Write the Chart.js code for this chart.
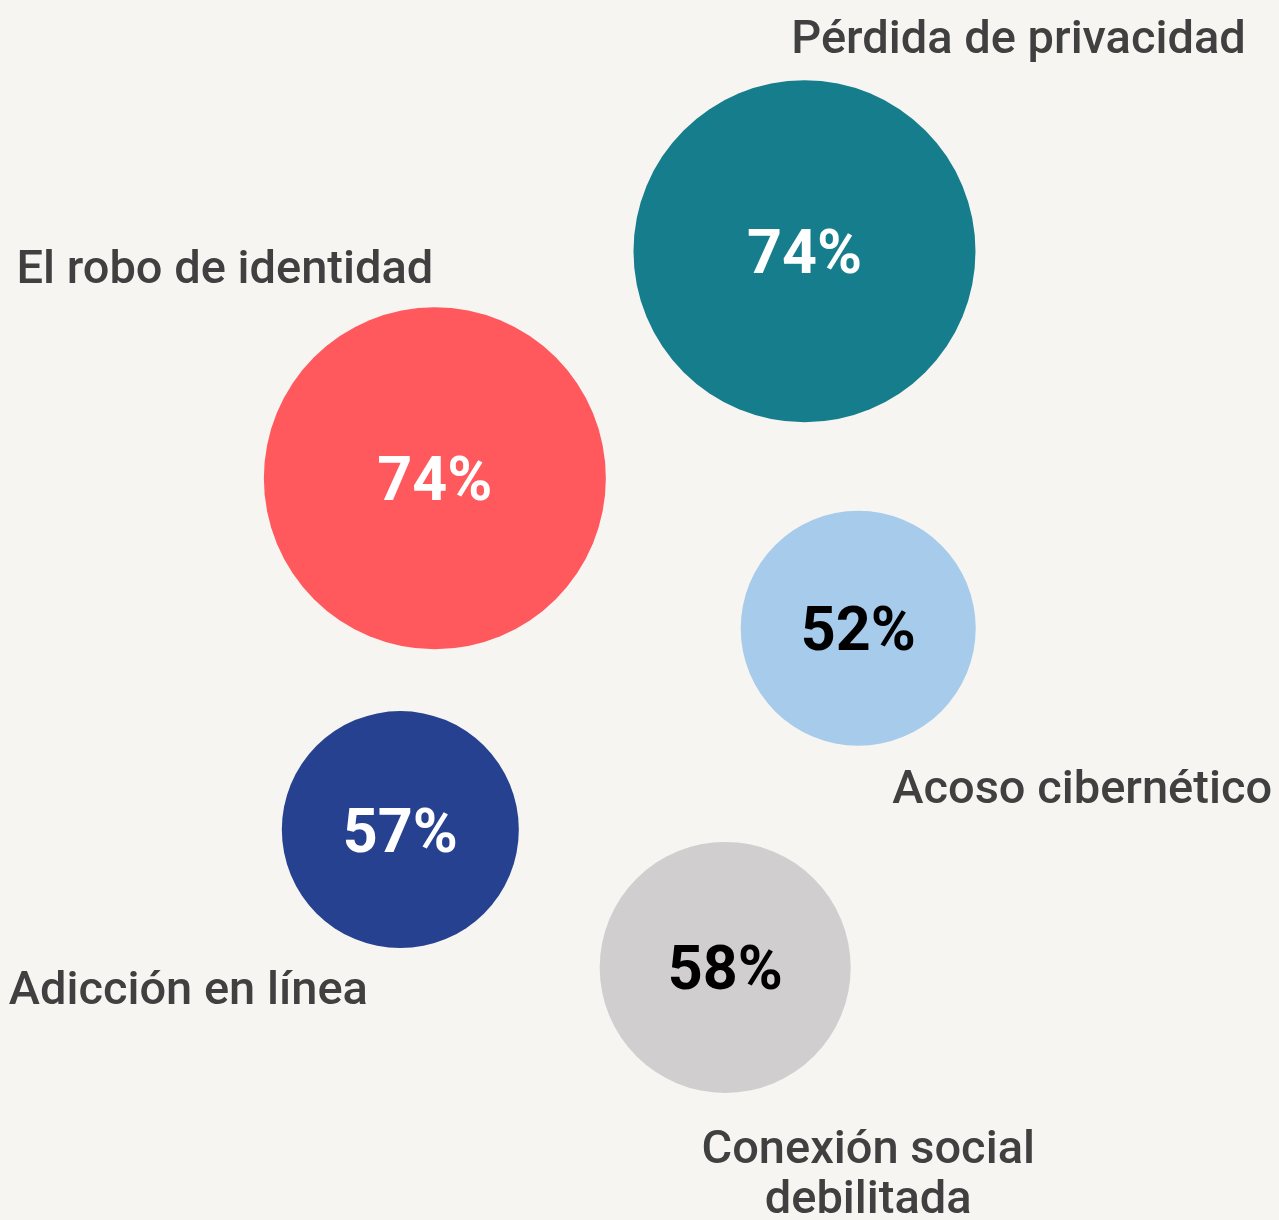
<!DOCTYPE html>
<html>
<head>
<meta charset="utf-8">
<script src="https://cdn.jsdelivr.net/npm/chart.js@4"></script>
<style>
    html, body { margin:0; padding:0; background:#f6f5f2; }
    #wrap { width:1279px; height:1220px; }
</style>
</head>
<body>
<div id="wrap"><canvas id="myChart"></canvas></div>
<script>
// values
const categories = ['Pérdida de privacidad', 'El robo de identidad', 'Acoso cibernético', 'Adicción en línea', 'Conexión social debilitada']
const percentages = [74, 74, 52, 57, 58]
// bubble centres on a hidden 0-100 grid
const xValues = [62.9, 34.0, 67.1, 31.3, 56.7]
const yValues = [79.4, 60.8, 48.5, 32.0, 20.7]
const radii = [171, 171, 117.5, 118.5, 125.5]

const colors = ['#157d8b', '#ff585d', '#a7cbea', '#26418f', '#d0cecf']
const valueColors = ['#ffffff', '#ffffff', '#000000', '#ffffff', '#000000']

// where the name goes, relative to the bubble centre (dx = text centre, dy = first baseline)
const labelLayout = [
    { dx: 214, dy: -198, lines: ['Pérdida de privacidad'] },
    { dx: -210, dy: -195, lines: ['El robo de identidad'] },
    { dx: 224, dy: 175, lines: ['Acoso cibernético'] },
    { dx: -212, dy: 174, lines: ['Adicción en línea'] },
    { dx: 143, dy: 196, lines: ['Conexión social', 'debilitada'] }
]

const FONT = 'Roboto, "Noto Sans", sans-serif'

const bubbleLabels = {
    id: 'bubbleLabels',
    afterDatasetsDraw(chart) {
        const ctx = chart.ctx
        const meta = chart.getDatasetMeta(0)
        ctx.save()
        meta.data.forEach((pt, i) => {
            // percentage in the middle
            ctx.font = '700 61px ' + FONT
            ctx.fillStyle = valueColors[i]
            ctx.textAlign = 'center'
            ctx.textBaseline = 'alphabetic'
            ctx.fillText(percentages[i] + '%', pt.x, pt.y + 22)

            // category name
            const lay = labelLayout[i]
            ctx.font = '500 47px ' + FONT
            ctx.fillStyle = '#404040'
            lay.lines.forEach((line, j) => {
                ctx.fillText(line, pt.x + lay.dx, pt.y + lay.dy + j * 50)
            })
        })
        ctx.restore()
    }
}

const ctx = document.getElementById('myChart').getContext('2d')
const chart = new Chart(ctx, {
    type: 'bubble',
    data: {
        labels: categories,
        datasets: [{
            data: categories.map((c, i) => ({ x: xValues[i], y: yValues[i], r: radii[i] })),
            backgroundColor: colors,
            borderWidth: 0,
            hoverRadius: 0,
            clip: false
        }]
    },
    options: {
        responsive: true,
        maintainAspectRatio: false,
        animation: false,
        layout: { padding: 0, autoPadding: false },
        plugins: {
            legend: { display: false },
            tooltip: { enabled: false }
        },
        scales: {
            x: { type: 'linear', min: 0, max: 100, display: false },
            y: { type: 'linear', min: 0, max: 100, display: false }
        }
    },
    plugins: [bubbleLabels]
})
</script>
</body>
</html>
